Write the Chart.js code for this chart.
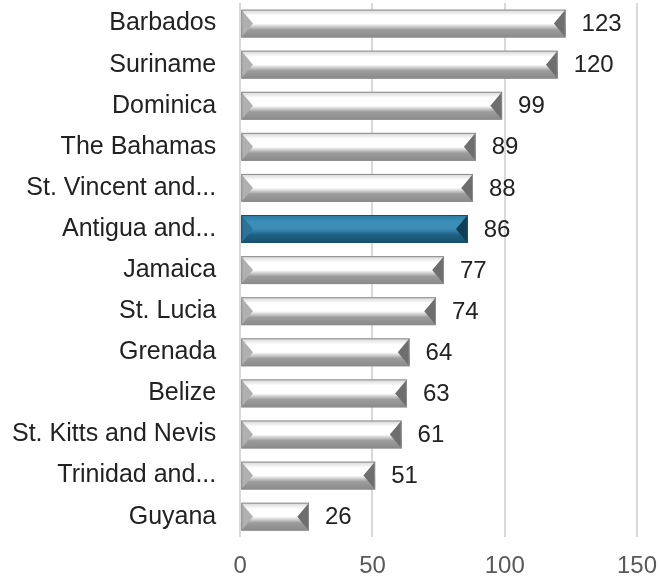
<!DOCTYPE html>
<html lang="en">
<head>
    <meta charset="UTF-8">
    <title>Caribbean ranking</title>
    <script src="https://cdn.jsdelivr.net/npm/chart.js"></script>
    <style>
        body {
            margin: 0;
            padding: 0;
            background-color: white;
        }
        canvas {
            display: block;
        }
    </style>
</head>
<body>
    <canvas id="rankChart" width="660" height="582"></canvas>
    <script>
        const countries = ['Barbados', 'Suriname', 'Dominica', 'The Bahamas', 'St. Vincent and...',
            'Antigua and...', 'Jamaica', 'St. Lucia', 'Grenada', 'Belize', 'St. Kitts and Nevis',
            'Trinidad and...', 'Guyana'];
        const scores = [123, 120, 99, 89, 88, 86, 77, 74, 64, 63, 61, 51, 26];
        const highlighted = ['Antigua and...'];
        const xTicks = [0, 50, 100, 150];

        const fontFamily = '"Liberation Sans", Arial, sans-serif';
        const grayShade = { top: '#d4d4d4', mid: '#ffffff', low: '#9c9c9c', bottom: '#8a8a8a', left: '#b0b0b0', right: '#6e6e6e', edge: '#8c8c8c' };
        const blueShade = { top: '#2a7aa2', mid: '#3b8db5', low: '#1d5f82', bottom: '#16506e', left: '#2b7499', right: '#0f3e56', edge: '#174f6c' };

        // draws the bevelled bar look over the plain bars
        const bevelPlugin = {
            id: 'bevel',
            afterDatasetsDraw(chart) {
                const ctx = chart.ctx;
                const meta = chart.getDatasetMeta(0);
                meta.data.forEach((bar, i) => {
                    const s = highlighted.includes(countries[i]) ? blueShade : grayShade;
                    const x0 = bar.base, x1 = bar.x;
                    const y0 = bar.y - bar.height / 2, y1 = bar.y + bar.height / 2;
                    const h = y1 - y0;
                    const b = Math.min(h * 0.42, (x1 - x0) / 2);
                    ctx.save();
                    const g = ctx.createLinearGradient(0, y0, 0, y1);
                    g.addColorStop(0, s.top);
                    g.addColorStop(0.22, s.mid);
                    g.addColorStop(0.5, s.mid);
                    g.addColorStop(0.72, s.low);
                    g.addColorStop(1, s.bottom);
                    ctx.fillStyle = g;
                    ctx.fillRect(x0, y0, x1 - x0, h);
                    // left bevel
                    ctx.fillStyle = s.left;
                    ctx.beginPath();
                    ctx.moveTo(x0, y0);
                    ctx.lineTo(x0 + b, y0 + h / 2);
                    ctx.lineTo(x0, y1);
                    ctx.closePath();
                    ctx.fill();
                    // right bevel
                    ctx.fillStyle = s.right;
                    ctx.beginPath();
                    ctx.moveTo(x1, y0);
                    ctx.lineTo(x1 - b, y0 + h / 2);
                    ctx.lineTo(x1, y1);
                    ctx.closePath();
                    ctx.fill();
                    ctx.strokeStyle = s.edge;
                    ctx.lineWidth = 1;
                    ctx.strokeRect(x0 + 0.5, y0 + 0.5, x1 - x0 - 1, h - 1);
                    ctx.restore();
                });
            }
        };

        const valueLabels = {
            id: 'valueLabels',
            afterDatasetsDraw(chart) {
                const ctx = chart.ctx;
                const meta = chart.getDatasetMeta(0);
                ctx.save();
                ctx.font = '24px ' + fontFamily;
                ctx.fillStyle = '#222222';
                ctx.textBaseline = 'middle';
                ctx.textAlign = 'left';
                meta.data.forEach((bar, i) => {
                    ctx.fillText(scores[i], bar.x + 16, bar.y + 1);
                });
                ctx.restore();
            }
        };

        new Chart(document.getElementById('rankChart'), {
            type: 'bar',
            data: {
                labels: countries,
                datasets: [{
                    data: scores,
                    backgroundColor: 'rgba(0,0,0,0)',
                    barPercentage: 0.68,
                    categoryPercentage: 1
                }]
            },
            options: {
                indexAxis: 'y',
                responsive: false,
                animation: false,
                layout: { padding: { top: 3, right: 0, bottom: 1, left: 12 } },
                plugins: {
                    legend: { display: false },
                    tooltip: { enabled: false }
                },
                scales: {
                    x: {
                        min: 0,
                        max: 150,
                        afterBuildTicks: axis => { axis.ticks = xTicks.map(v => ({ value: v })); },
                        afterFit: scale => { scale.paddingRight = 23; },
                        border: { display: false },
                        grid: { color: '#d9d9d9', lineWidth: 2, drawTicks: true, tickLength: 15, tickColor: 'rgba(0,0,0,0)' },
                        ticks: {
                            padding: 0,
                            color: '#595959',
                            font: { family: fontFamily, size: 24 }
                        }
                    },
                    y: {
                        border: { display: false },
                        grid: { color: 'rgba(0,0,0,0)', drawTicks: true, tickLength: 24, tickColor: 'rgba(0,0,0,0)' },
                        afterFit: scale => { scale.paddingTop = 0; scale.paddingBottom = 0; },
                        ticks: {
                            padding: 0,
                            color: '#222222',
                            font: { family: fontFamily, size: 25 }
                        }
                    }
                }
            },
            plugins: [bevelPlugin, valueLabels]
        });
    </script>
</body>
</html>
